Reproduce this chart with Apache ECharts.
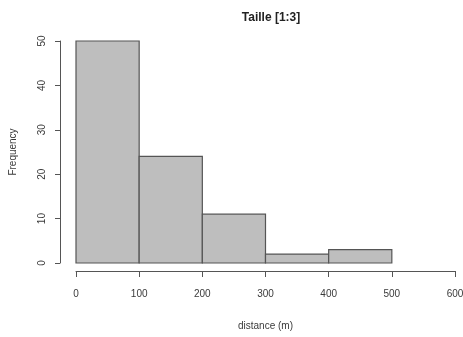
<!DOCTYPE html>
<html>
<head>
<meta charset="utf-8">
<script src="https://cdn.jsdelivr.net/npm/echarts@6/dist/echarts.min.js"></script>
<style>
  html, body { margin: 0; padding: 0; background: #fff; }
  #chart { width: 463px; height: 337px; }
</style>
</head>
<body>
<div id="chart"></div>
<script>
// histogram bins (distance in m) and counts
const binStarts = [0, 100, 200, 300, 400];
const binEnds = [100, 200, 300, 400, 500];
const counts = [50, 24, 11, 2, 3];

const xTicks = [0, 100, 200, 300, 400, 500, 600];
const yTicks = [0, 10, 20, 30, 40, 50];

const fontFamily = "'Liberation Sans', Arial, sans-serif";
const textColor = '#3a3a3a';

const chart = echarts.init(document.getElementById('chart'));

const option = {
    backgroundColor: '#ffffff',
    animation: false,
    title: {
        text: 'Taille [1:3]',
        left: 266,
        textAlign: 'center',
        top: 7,
        textStyle: { fontFamily, fontSize: 12, fontWeight: 'bold', color: '#222' }
    },
    grid: { left: 76, right: 8, top: 41, bottom: 74, outerBoundsMode: 'none', containLabel: false },
    xAxis: {
        type: 'value',
        min: xTicks[0],
        max: xTicks[xTicks.length - 1],
        interval: 100,
        offset: 8,
        name: 'distance (m)',
        nameLocation: 'middle',
        nameGap: 50,
        nameTextStyle: { fontFamily, fontSize: 10, color: textColor },
        axisLine: { show: true, onZero: false, lineStyle: { color: '#555', width: 1 } },
        axisTick: { show: true, length: 6, lineStyle: { color: '#555' } },
        axisLabel: { fontFamily, fontSize: 10, color: textColor, margin: 18, showMaxLabel: true, showMinLabel: true },
        splitLine: { show: false }
    },
    yAxis: {
        type: 'value',
        min: yTicks[0],
        max: yTicks[yTicks.length - 1],
        interval: 10,
        offset: 16,
        name: 'Frequency',
        nameLocation: 'middle',
        nameGap: 42,
        nameRotate: 90,
        nameTextStyle: { fontFamily, fontSize: 10, color: textColor },
        axisLine: { show: true, onZero: false, lineStyle: { color: '#555', width: 1 } },
        axisTick: { show: true, length: 5, lineStyle: { color: '#555' } },
        axisLabel: { fontFamily, fontSize: 10, color: textColor, rotate: 90, margin: 13 },
        splitLine: { show: false }
    },
    series: [{
        type: 'custom',
        data: counts.map((c, i) => [binStarts[i], binEnds[i], c]),
        renderItem: (params, api) => {
            const p0 = api.coord([api.value(0), 0]);
            const p1 = api.coord([api.value(1), api.value(2)]);
            return {
                type: 'rect',
                shape: { x: p0[0], y: p1[1], width: p1[0] - p0[0], height: p0[1] - p1[1] },
                style: { fill: '#bebebe', stroke: '#555555', lineWidth: 1.2 }
            };
        }
    }]
};

chart.setOption(option);
</script>
</body>
</html>
